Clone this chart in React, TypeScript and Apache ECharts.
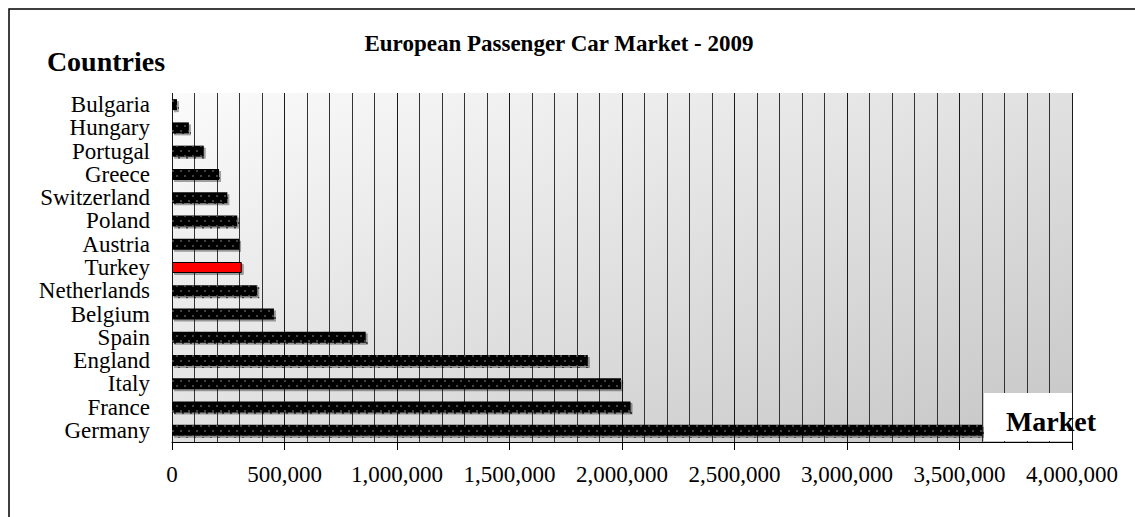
import React, { useEffect, useRef } from "react";
import * as echarts from "echarts";

const countries = [
  "Bulgaria", "Hungary", "Portugal", "Greece", "Switzerland", "Poland", "Austria",
  "Turkey", "Netherlands", "Belgium", "Spain", "England", "Italy", "France", "Germany",
];
const sales = [
  22000, 75000, 141000, 209000, 246000, 290000, 298000,
  310000, 379000, 453000, 861000, 1848000, 1996000, 2038000, 3600000,
];
const highlight = "Turkey";
const chartTitle = "European Passenger Car Market - 2009";
const yAxisTitle = "Countries";
const xAxisTitle = "Market";

const FONT = '"Liberation Serif", "Times New Roman", serif';

export default function App() {
  const ref = useRef<HTMLDivElement>(null);
  useEffect(() => {
    document.body.style.margin = "0";
    const chart = echarts.init(ref.current!, undefined, { renderer: "svg" });
    const decal = {
      symbol: "rect",
      symbolSize: 0.8,
      color: "#6e6e6e",
      dashArrayX: [[2, 6], [0, 4, 2, 2]],
      dashArrayY: [2, 3],
      rotation: 0,
    };
    chart.setOption({
      animation: false,
      backgroundColor: "#ffffff",
      grid: {
        left: 172,
        right: 63,
        top: 93,
        bottom: 75,
        show: true,
        borderWidth: 0,
        backgroundColor: new echarts.graphic.LinearGradient(0, 0, 1, 1, [
          { offset: 0, color: "#fbfbfb" },
          { offset: 1, color: "#c6c6c6" },
        ]),
      },
      xAxis: {
        type: "value",
        min: 0,
        max: 4000000,
        interval: 500000,
        axisLine: { show: true, lineStyle: { color: "#000", width: 1 } },
        axisTick: { show: true, length: 8, lineStyle: { color: "#000" } },
        axisLabel: {
          fontFamily: FONT,
          fontSize: 23,
          color: "#000",
          margin: 21,
          formatter: (v: number) => v.toLocaleString("en-US"),
        },
        splitLine: { show: true, lineStyle: { color: "#1a1a1a", width: 1 } },
        minorTick: { show: false, splitNumber: 5 },
        minorSplitLine: { show: true, lineStyle: { color: "#333", width: 1 } },
      },
      yAxis: {
        type: "category",
        data: countries,
        inverse: true,
        axisLine: { show: false },
        axisTick: { show: false },
        axisLabel: {
          interval: 0,
          fontFamily: FONT,
          fontSize: 23,
          lineHeight: 21,
          color: "#000",
          margin: 22,
        },
      },
      series: [
        {
          type: "bar",
          barWidth: 11,
          data: sales.map((v, i) =>
            countries[i] === highlight
              ? {
                  value: v,
                  itemStyle: { color: "#ff0000", borderColor: "#000", borderWidth: 1, decal: null },
                }
              : { value: v, itemStyle: { decal } }
          ),
          itemStyle: {
            color: "#000",
            shadowColor: "rgba(0,0,0,0.35)",
            shadowOffsetX: 2,
            shadowOffsetY: 2,
            shadowBlur: 1,
          },
        },
      ],
      graphic: [
        {
          type: "rect",
          shape: { x: 9, y: 9, width: 1200, height: 600 },
          style: { fill: "none", stroke: "#000", lineWidth: 1.5 },
          z: 100,
        },
        {
          type: "text",
          x: 559,
          y: 43,
          style: {
            text: chartTitle,
            font: `bold 23px ${FONT}`,
            fill: "#000",
            align: "center",
            verticalAlign: "middle",
          },
        },
        {
          type: "text",
          x: 106,
          y: 61,
          style: {
            text: yAxisTitle,
            font: `bold 28px ${FONT}`,
            fill: "#000",
            align: "center",
            verticalAlign: "middle",
          },
        },
        {
          type: "rect",
          shape: { x: 984, y: 393, width: 88, height: 48 },
          style: { fill: "#fff" },
          z: 50,
        },
        {
          type: "text",
          x: 1051,
          y: 421,
          z: 51,
          style: {
            text: xAxisTitle,
            font: `bold 28px ${FONT}`,
            fill: "#000",
            align: "center",
            verticalAlign: "middle",
          },
        },
      ],
    });
    return () => chart.dispose();
  }, []);
  return <div ref={ref} style={{ width: 1135, height: 517 }} />;
}
